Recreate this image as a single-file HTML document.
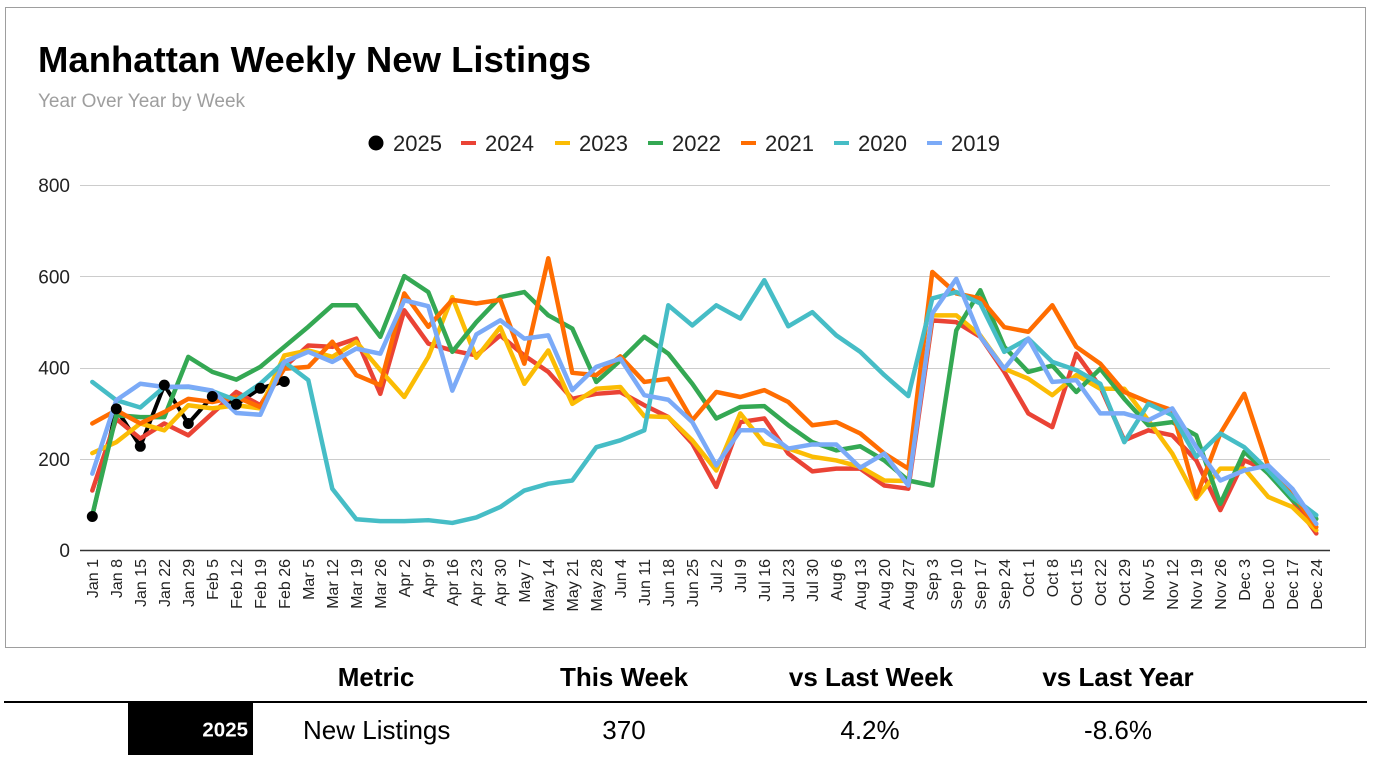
<!DOCTYPE html>
<html>
<head>
<meta charset="utf-8">
<style>
  html, body { margin: 0; padding: 0; background: #ffffff; }
  body { width: 1374px; height: 764px; overflow: hidden; }
  svg { display: block; font-family: "Liberation Sans", Arial, sans-serif; }
</style>
</head>
<body>
<svg width="1374" height="764" viewBox="0 0 1374 764" xmlns="http://www.w3.org/2000/svg">
  <rect x="0" y="0" width="1374" height="764" fill="#ffffff"/>
  <!-- chart border -->
  <rect x="5.5" y="7.5" width="1360" height="640" fill="none" stroke="#9e9e9e" stroke-width="1"/>

  <!-- title -->
  <text x="38" y="72" font-size="36.5" font-weight="bold" fill="#000">Manhattan Weekly New Listings</text>
  <text x="38" y="107" font-size="19" fill="#9e9e9e">Year Over Year by Week</text>

  <!-- legend -->
  <g font-size="22" fill="#222">
    <circle cx="376" cy="143" r="7.5" fill="#000"/>
    <text x="393" y="151">2025</text>
    <rect x="461" y="141" width="15" height="4" fill="#ea4335"/>
    <text x="485" y="151">2024</text>
    <rect x="555" y="141" width="15" height="4" fill="#fbbc04"/>
    <text x="579" y="151">2023</text>
    <rect x="648" y="141" width="15" height="4" fill="#34a853"/>
    <text x="672" y="151">2022</text>
    <rect x="741" y="141" width="15" height="4" fill="#ff6d01"/>
    <text x="765" y="151">2021</text>
    <rect x="834" y="141" width="15" height="4" fill="#46bdc6"/>
    <text x="858" y="151">2020</text>
    <rect x="927" y="141" width="15" height="4" fill="#7baaf7"/>
    <text x="951" y="151">2019</text>
  </g>

  <!-- gridlines -->
  <g stroke="#cccccc" stroke-width="1">
    <line x1="80" y1="185.5" x2="1330" y2="185.5"/>
    <line x1="80" y1="276.5" x2="1330" y2="276.5"/>
    <line x1="80" y1="368.5" x2="1330" y2="368.5"/>
    <line x1="80" y1="459.5" x2="1330" y2="459.5"/>
  </g>

  <!-- y labels -->
  <g font-size="19" fill="#222" text-anchor="end">
    <text x="70" y="192">800</text>
    <text x="70" y="283.5">600</text>
    <text x="70" y="374.5">400</text>
    <text x="70" y="466">200</text>
    <text x="70" y="557">0</text>
  </g>

  <!-- 2025 line (beneath others) -->
  <polyline fill="none" stroke="#000" stroke-width="4" stroke-linejoin="round" points="92.3,516.5 116.3,408.9 140.3,446.3 164.3,385.1 188.3,423.5 212.3,396.5 236.3,404.3 260.3,388.3 284.3,381.5"/>

  <!-- series -->
  <g transform="translate(92.3,550.3) scale(24,-0.45625)" fill="none" stroke-linejoin="round" stroke-linecap="round">
    <polyline vector-effect="non-scaling-stroke" stroke="#ea4335" stroke-width="4.5" points="0,131 1,288 2,245 3,278 4,252 5,300 6,347 7,318 8,402 9,449 10,446 11,464 12,343 13,526 14,453 15,438 16,427 17,471 18,427 19,391 20,332 21,343 22,347 23,318 24,292 25,234 26,139 27,281 28,289 29,212 30,173 31,179 32,179 33,142 34,135 35,504 36,500 37,468 38,391 39,300 40,270 41,431 42,358 43,241 44,263 45,252 46,197 47,88 48,197 49,175 50,110 51,37"/>
    <polyline vector-effect="non-scaling-stroke" stroke="#fbbc04" stroke-width="4.5" points="0,213 1,237 2,278 3,263 4,318 5,311 6,318 7,311 8,427 9,438 10,424 11,457 12,395 13,336 14,424 15,555 16,422 17,489 18,365 19,438 20,321 21,354 22,358 23,294 24,292 25,241 26,175 27,300 28,234 29,223 30,205 31,197 32,183 33,153 34,152 35,515 36,515 37,471 38,398 39,376 40,340 41,384 42,354 43,354 44,285 45,212 46,113 47,179 48,179 49,117 50,95 51,44"/>
    <polyline vector-effect="non-scaling-stroke" stroke="#34a853" stroke-width="4.5" points="0,77 1,296 2,292 3,292 4,424 5,391 6,374 7,402 8,446 9,490 10,537 11,537 12,468 13,601 14,566 15,435 16,500 17,555 18,566 19,515 20,486 21,369 22,416 23,468 24,431 25,365 26,289 27,314 28,316 29,274 30,237 31,219 32,228 33,197 34,153 35,142 36,482 37,570 38,446 39,391 40,405 41,347 42,398 43,332 44,274 45,281 46,252 47,102 48,216 49,168 50,110 51,69"/>
    <polyline vector-effect="non-scaling-stroke" stroke="#ff6d01" stroke-width="4.5" points="0,278 1,307 2,278 3,303 4,332 5,325 6,336 7,314 8,398 9,402 10,457 11,384 12,362 13,563 14,490 15,549 16,541 17,549 18,409 19,640 20,389 21,384 22,425 23,369 24,376 25,285 26,347 27,336 28,351 29,325 30,274 31,281 32,256 33,212 34,179 35,610 36,563 37,552 38,489 39,479 40,537 41,446 42,409 43,347 44,325 45,307 46,117 47,256 48,343 49,183 50,124 51,51"/>
    <polyline vector-effect="non-scaling-stroke" stroke="#46bdc6" stroke-width="4.5" points="0,369 1,329 2,313 3,358 4,358 5,349 6,329 7,365 8,413 9,373 10,135 11,68 12,64 13,64 14,66 15,60 16,72 17,95 18,131 19,146 20,153 21,226 22,241 23,263 24,537 25,493 26,537 27,508 28,592 29,491 30,522 31,471 32,435 33,384 34,338 35,552 36,566 37,541 38,435 39,464 40,413 41,395 42,365 43,237 44,321 45,296 46,205 47,256 48,226 49,175 50,117 51,77"/>
    <polyline vector-effect="non-scaling-stroke" stroke="#7baaf7" stroke-width="4.5" points="0,168 1,329 2,365 3,358 4,359 5,350 6,301 7,297 8,413 9,435 10,413 11,442 12,431 13,548 14,535 15,350 16,473 17,504 18,464 19,471 20,351 21,402 22,420 23,340 24,330 25,281 26,186 27,263 28,263 29,223 30,232 31,232 32,181 33,212 34,142 35,519 36,595 37,468 38,398 39,464 40,369 41,373 42,300 43,300 44,285 45,311 46,226 47,153 48,175 49,186 50,135 51,58"/>
  </g>

  <!-- 2025 dots on top -->
  <g fill="#000">
    <circle cx="92.3" cy="516.5" r="5.5"/>
    <circle cx="116.3" cy="408.9" r="5.5"/>
    <circle cx="140.3" cy="446.3" r="5.5"/>
    <circle cx="164.3" cy="385.1" r="5.5"/>
    <circle cx="188.3" cy="423.5" r="5.5"/>
    <circle cx="212.3" cy="396.5" r="5.5"/>
    <circle cx="236.3" cy="404.3" r="5.5"/>
    <circle cx="260.3" cy="388.3" r="5.5"/>
    <circle cx="284.3" cy="381.5" r="5.5"/>
  </g>

  <!-- x axis -->
  <line x1="80" y1="550.5" x2="1330" y2="550.5" stroke="#333" stroke-width="1.5"/>

  <!-- x labels -->
  <g font-size="16" fill="#222" text-anchor="end">
    <text transform="translate(97.8,559) rotate(-90)">Jan 1</text>
    <text transform="translate(121.8,559) rotate(-90)">Jan 8</text>
    <text transform="translate(145.8,559) rotate(-90)">Jan 15</text>
    <text transform="translate(169.8,559) rotate(-90)">Jan 22</text>
    <text transform="translate(193.8,559) rotate(-90)">Jan 29</text>
    <text transform="translate(217.8,559) rotate(-90)">Feb 5</text>
    <text transform="translate(241.8,559) rotate(-90)">Feb 12</text>
    <text transform="translate(265.8,559) rotate(-90)">Feb 19</text>
    <text transform="translate(289.8,559) rotate(-90)">Feb 26</text>
    <text transform="translate(313.8,559) rotate(-90)">Mar 5</text>
    <text transform="translate(337.8,559) rotate(-90)">Mar 12</text>
    <text transform="translate(361.8,559) rotate(-90)">Mar 19</text>
    <text transform="translate(385.8,559) rotate(-90)">Mar 26</text>
    <text transform="translate(409.8,559) rotate(-90)">Apr 2</text>
    <text transform="translate(433.8,559) rotate(-90)">Apr 9</text>
    <text transform="translate(457.8,559) rotate(-90)">Apr 16</text>
    <text transform="translate(481.8,559) rotate(-90)">Apr 23</text>
    <text transform="translate(505.8,559) rotate(-90)">Apr 30</text>
    <text transform="translate(529.8,559) rotate(-90)">May 7</text>
    <text transform="translate(553.8,559) rotate(-90)">May 14</text>
    <text transform="translate(577.8,559) rotate(-90)">May 21</text>
    <text transform="translate(601.8,559) rotate(-90)">May 28</text>
    <text transform="translate(625.8,559) rotate(-90)">Jun 4</text>
    <text transform="translate(649.8,559) rotate(-90)">Jun 11</text>
    <text transform="translate(673.8,559) rotate(-90)">Jun 18</text>
    <text transform="translate(697.8,559) rotate(-90)">Jun 25</text>
    <text transform="translate(721.8,559) rotate(-90)">Jul 2</text>
    <text transform="translate(745.8,559) rotate(-90)">Jul 9</text>
    <text transform="translate(769.8,559) rotate(-90)">Jul 16</text>
    <text transform="translate(793.8,559) rotate(-90)">Jul 23</text>
    <text transform="translate(817.8,559) rotate(-90)">Jul 30</text>
    <text transform="translate(841.8,559) rotate(-90)">Aug 6</text>
    <text transform="translate(865.8,559) rotate(-90)">Aug 13</text>
    <text transform="translate(889.8,559) rotate(-90)">Aug 20</text>
    <text transform="translate(913.8,559) rotate(-90)">Aug 27</text>
    <text transform="translate(937.8,559) rotate(-90)">Sep 3</text>
    <text transform="translate(961.8,559) rotate(-90)">Sep 10</text>
    <text transform="translate(985.8,559) rotate(-90)">Sep 17</text>
    <text transform="translate(1009.8,559) rotate(-90)">Sep 24</text>
    <text transform="translate(1033.8,559) rotate(-90)">Oct 1</text>
    <text transform="translate(1057.8,559) rotate(-90)">Oct 8</text>
    <text transform="translate(1081.8,559) rotate(-90)">Oct 15</text>
    <text transform="translate(1105.8,559) rotate(-90)">Oct 22</text>
    <text transform="translate(1129.8,559) rotate(-90)">Oct 29</text>
    <text transform="translate(1153.8,559) rotate(-90)">Nov 5</text>
    <text transform="translate(1177.8,559) rotate(-90)">Nov 12</text>
    <text transform="translate(1201.8,559) rotate(-90)">Nov 19</text>
    <text transform="translate(1225.8,559) rotate(-90)">Nov 26</text>
    <text transform="translate(1249.8,559) rotate(-90)">Dec 3</text>
    <text transform="translate(1273.8,559) rotate(-90)">Dec 10</text>
    <text transform="translate(1297.8,559) rotate(-90)">Dec 17</text>
    <text transform="translate(1321.8,559) rotate(-90)">Dec 24</text>
  </g>

  <!-- table -->
  <g font-size="26" font-weight="bold" fill="#000" text-anchor="middle">
    <text x="376" y="686">Metric</text>
    <text x="624" y="686">This Week</text>
    <text x="871" y="686">vs Last Week</text>
    <text x="1118" y="686">vs Last Year</text>
  </g>
  <rect x="4" y="701" width="1363" height="2" fill="#000"/>
  <rect x="128" y="703" width="125" height="52" fill="#000"/>
  <text x="248" y="736.5" font-size="20.5" font-weight="bold" fill="#fff" text-anchor="end">2025</text>
  <g font-size="26" fill="#000">
    <text x="303" y="739">New Listings</text>
    <text x="624" y="739" text-anchor="middle">370</text>
    <text x="870" y="739" text-anchor="middle">4.2%</text>
    <text x="1118" y="739" text-anchor="middle">-8.6%</text>
  </g>
</svg>
</body>
</html>
